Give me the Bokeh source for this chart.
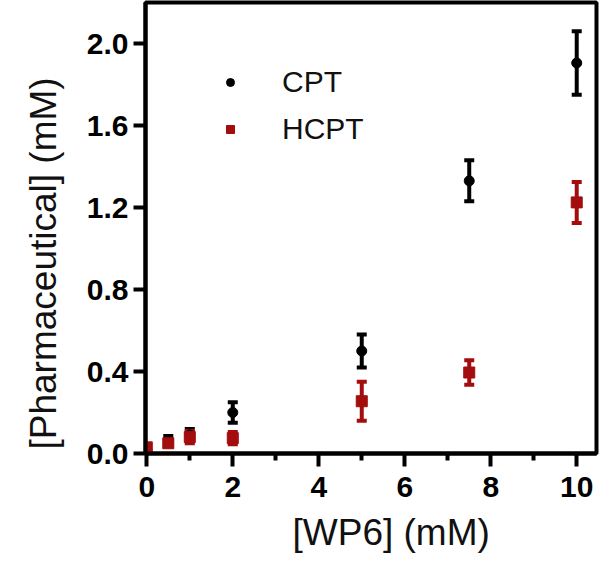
from bokeh.plotting import figure
from bokeh.models import (Range1d, Whisker, ColumnDataSource, Legend, LegendItem,
                          FixedTicker, TeeHead, Title, PrintfTickFormatter)
from bokeh.embed import file_html
from bokeh.resources import INLINE

# data
wp6 = [0, 0.5, 1, 2, 5, 7.5, 10]
cpt = [0.02, 0.065, 0.09, 0.20, 0.50, 1.33, 1.905]
cpt_err = [0.01, 0.02, 0.03, 0.05, 0.08, 0.10, 0.155]
hcpt = [0.03, 0.05, 0.08, 0.075, 0.255, 0.395, 1.225]
hcpt_err = [0.01, 0.015, 0.03, 0.03, 0.095, 0.06, 0.10]
x_ticks = [0, 2, 4, 6, 8, 10]
x_minor = [1, 3, 5, 7, 9]
y_ticks = [0.0, 0.4, 0.8, 1.2, 1.6, 2.0]
x_label = "[WP6] (mM)"
y_label = "[Pharmaceutical] (mM)"

BLACK = "#000000"
RED = "#a30d0d"
FONT = "Liberation Sans"

p = figure(output_backend="svg", toolbar_location=None,
           frame_width=451, frame_height=451,
           min_border_left=145, min_border_right=4, min_border_top=2, min_border_bottom=121,
           x_range=Range1d(-0.03, 10.46), y_range=Range1d(0, 2.2))
p.grid.visible = False
p.outline_line_color = "black"
p.outline_line_width = 4
p.background_fill_color = "white"
p.border_fill_color = "white"

for ax in (p.xaxis[0], p.yaxis[0]):
    ax.axis_line_width = 4
    ax.major_tick_line_width = 4
    ax.minor_tick_line_width = 4
    ax.major_tick_in = 0
    ax.minor_tick_in = 0
    ax.major_label_text_font = FONT
    ax.major_label_text_font_style = "bold"
    ax.major_label_text_font_size = "30px"
    ax.major_label_text_color = "black"

p.xaxis[0].ticker = FixedTicker(ticks=x_ticks, minor_ticks=x_minor)
p.xaxis[0].major_tick_out = 13
p.xaxis[0].minor_tick_out = 7
p.xaxis[0].major_label_standoff = 10
p.yaxis[0].ticker = FixedTicker(ticks=y_ticks, minor_ticks=[])
p.yaxis[0].formatter = PrintfTickFormatter(format="%.1f")
p.yaxis[0].major_tick_out = 12
p.yaxis[0].major_label_standoff = 5

# axis titles placed along the axes as in the reference
p.add_layout(Title(text=x_label, align="left", offset=147, standoff=21,
                   text_font=FONT, text_font_style="normal", text_font_size="37px",
                   text_color="#111111"), "below")
p.add_layout(Title(text=y_label, align="left", offset=4, standoff=40,
                   text_font=FONT, text_font_style="normal", text_font_size="37px",
                   text_color="#111111"), "left")

def add_series(y, err, color):
    src = ColumnDataSource(dict(x=wp6, y=y,
                                lo=[a - b for a, b in zip(y, err)],
                                hi=[a + b for a, b in zip(y, err)]))
    w = Whisker(source=src, base="x", lower="lo", upper="hi",
                line_color=color, line_width=4,
                upper_head=TeeHead(size=10, line_color=color, line_width=4),
                lower_head=TeeHead(size=10, line_color=color, line_width=4))
    p.add_layout(w)
    return src

src_c = add_series(cpt, cpt_err, BLACK)
src_h = add_series(hcpt, hcpt_err, RED)
r_c = p.scatter("x", "y", source=src_c, marker="circle", size=10, color=BLACK)
r_h = p.scatter("x", "y", source=src_h, marker="square", size=11, color=RED)

legend = Legend(items=[LegendItem(label="CPT", renderers=[r_c]),
                       LegendItem(label="HCPT", renderers=[r_h])],
                location=(75, 306), border_line_color=None, background_fill_alpha=0,
                label_text_font=FONT, label_text_font_size="30px",
                label_text_color="#111111", glyph_width=20, glyph_height=36,
                label_height=36, spacing=11, label_standoff=42, padding=0, margin=0)
p.add_layout(legend, "center")

open("out.html", "w").write(file_html(p, INLINE))
